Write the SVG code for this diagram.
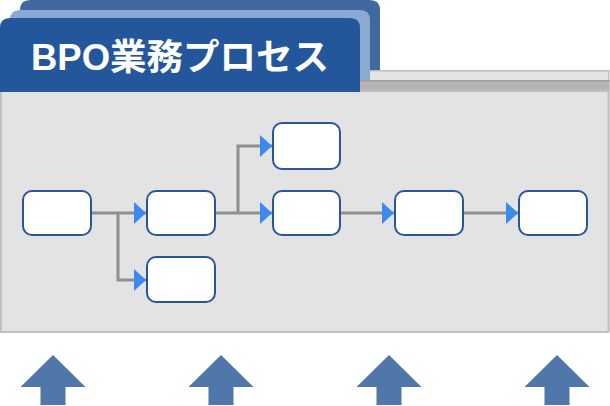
<svg xmlns="http://www.w3.org/2000/svg" width="610" height="406" viewBox="0 0 610 406">
<defs>
<style>
.node rect{fill:#ffffff;stroke:#2a5599;stroke-width:2}
.conn{fill:none;stroke:#8f8f8f;stroke-width:3}
.up{fill:#4f77aa}
.title{font-family:"Liberation Sans","Noto Sans CJK JP",sans-serif;font-weight:bold;font-size:36.5px;fill:#ffffff}
</style>
<marker id="ah" markerWidth="12" markerHeight="22" refX="12" refY="11" orient="auto" markerUnits="userSpaceOnUse">
<path d="M0,0 L12,11 L0,22 Z" fill="#3a8af0"/>
</marker>
</defs>
<g id="folder">
<rect x="20.75" y="70.75" width="588" height="260" fill="#e3e3e3" stroke="#c0c0c0" stroke-width="1.5"/>
<path d="M20,70 V10 Q20,0 30,0 H370 Q380,0 380,10 V70 Z" fill="#41699f"/>
<rect x="10" y="80" width="599.5" height="11" fill="#b5b5b5"/>
<line x1="10" y1="80.75" x2="609.5" y2="80.75" stroke="#a0a0a0" stroke-width="1.5"/>
<path d="M10,80 V20 Q10,10 20,10 H360 Q370,10 370,20 V80 Z" fill="#8aaad4"/>
<rect x="1" y="91" width="607.5" height="241" fill="#e3e3e3" stroke="#c0c0c0" stroke-width="2"/>
<path d="M0,92 V28 Q0,18 10,18 H350 Q360,18 360,28 V92 Z" fill="#23569b"/>
<text class="title" x="31" y="70">BPO業務プロセス</text>
</g>
<g id="connectors">
<path class="conn" d="M91,213 H146" marker-end="url(#ah)"/>
<path class="conn" d="M118,213 V280 H146" marker-end="url(#ah)"/>
<path class="conn" d="M215,213 H272" marker-end="url(#ah)"/>
<path class="conn" d="M238,213 V146 H272" marker-end="url(#ah)"/>
<path class="conn" d="M340,213 H394" marker-end="url(#ah)"/>
<path class="conn" d="M463,213 H518" marker-end="url(#ah)"/>
</g>
<g id="n1" class="node"><rect x="23" y="191" width="68" height="44" rx="9"/></g>
<g id="n2" class="node"><rect x="147" y="191" width="68" height="44" rx="9"/></g>
<g id="n3" class="node"><rect x="147" y="257" width="68" height="45" rx="9"/></g>
<g id="n4" class="node"><rect x="273" y="123" width="67" height="46" rx="9"/></g>
<g id="n5" class="node"><rect x="273" y="191" width="67" height="44" rx="9"/></g>
<g id="n6" class="node"><rect x="395" y="191" width="68" height="44" rx="9"/></g>
<g id="n7" class="node"><rect x="519" y="191" width="68" height="44" rx="9"/></g>
<g id="arrows">
<path class="up" d="M53,355 L85.5,387 H65.5 V405 H40.5 V387 H20.5 Z"/>
<path class="up" d="M221,355 L253.5,387 H233.5 V405 H208.5 V387 H188.5 Z"/>
<path class="up" d="M389,355 L421.5,387 H401.5 V405 H376.5 V387 H356.5 Z"/>
<path class="up" d="M557,355 L589.5,387 H569.5 V405 H544.5 V387 H524.5 Z"/>
</g>
</svg>
